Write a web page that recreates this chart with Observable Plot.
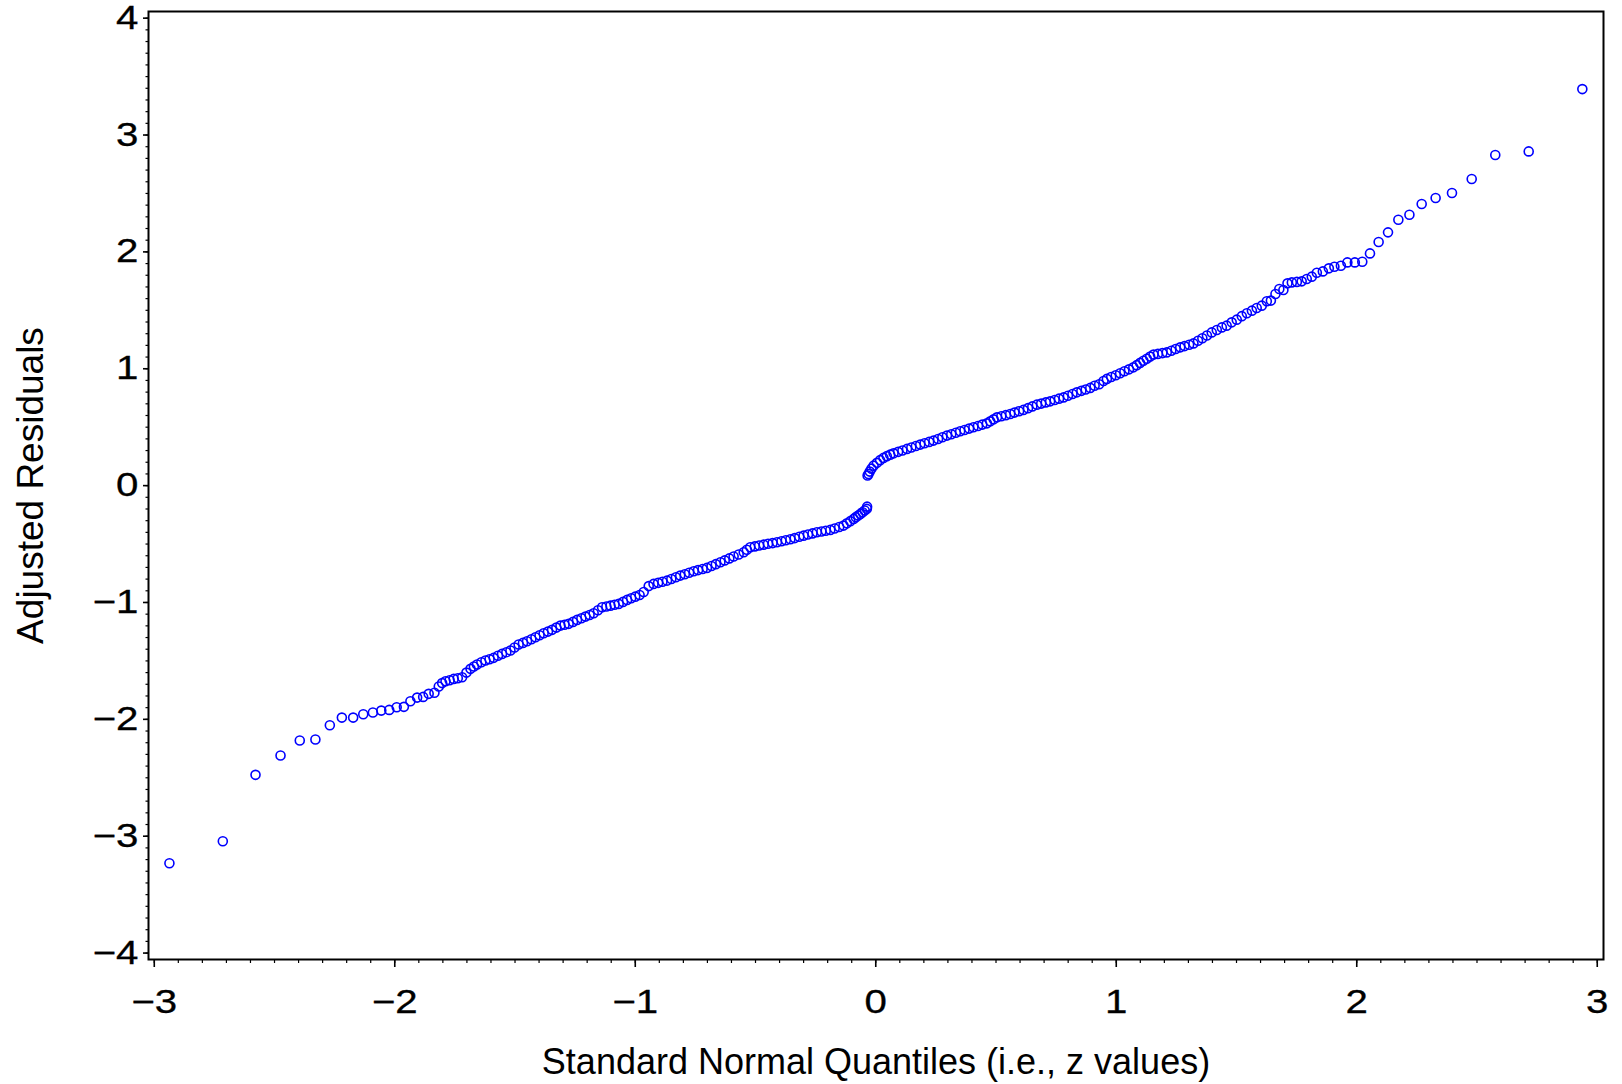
<!DOCTYPE html>
<html><head><meta charset="utf-8">
<script src="https://cdn.jsdelivr.net/npm/d3@7"></script>
<script src="https://cdn.jsdelivr.net/npm/@observablehq/plot@0.6"></script>
<style>html,body{margin:0;padding:0;background:#fff} svg{display:block}</style>
</head><body><div id="chart"></div>
<script>
const xTicks = [-3, -2, -1, 0, 1, 2, 3];
const yTicks = [-4, -3, -2, -1, 0, 1, 2, 3, 4];
const xLabel = "Standard Normal Quantiles (i.e., z values)";
const yLabel = "Adjusted Residuals";

const lowerTailZ = [-2.937,-2.715,-2.579,-2.475,-2.395,-2.330,-2.270,-2.220,-2.173,-2.131,-2.091,-2.056,-2.023,-1.992,-1.962,-1.935,-1.907,-1.882,-1.859,-1.835,-1.817];
const lowerTailR = [-3.231,-3.043,-2.475,-2.310,-2.181,-2.173,-2.050,-1.985,-1.985,-1.956,-1.942,-1.925,-1.919,-1.896,-1.893,-1.845,-1.814,-1.808,-1.782,-1.773,-1.719];

const lowerZ = [-1.803,-1.789,-1.772,-1.755,-1.738,-1.720,-1.702,-1.685,-1.671,-1.658,-1.640,-1.623,-1.606,-1.589,-1.571,-1.554,-1.536,-1.519,-1.502,-1.485,-1.467,-1.450,-1.432,-1.415,-1.398,-1.381,-1.363,-1.346,-1.328,-1.311,-1.294,-1.277,-1.259,-1.242,-1.224,-1.207,-1.190,-1.173,-1.155,-1.138,-1.120,-1.103,-1.086,-1.069,-1.051,-1.034,-1.017,-1.000,-0.982,-0.965,-0.944,-0.924,-0.905,-0.887,-0.868,-0.850,-0.831,-0.813,-0.794,-0.776,-0.757,-0.739,-0.720,-0.702,-0.683,-0.665,-0.646,-0.628,-0.609,-0.591,-0.570,-0.549,-0.536,-0.522,-0.503,-0.485,-0.466,-0.448,-0.429,-0.411,-0.392,-0.374,-0.355,-0.337,-0.318,-0.300,-0.282,-0.263,-0.245,-0.226,-0.208,-0.189,-0.171,-0.152,-0.134,-0.120,-0.106,-0.092,-0.083,-0.073,-0.064,-0.055,-0.046,-0.037,-0.036];
const lowerR = [-1.690,-1.674,-1.665,-1.654,-1.648,-1.640,-1.600,-1.568,-1.548,-1.531,-1.512,-1.497,-1.486,-1.474,-1.456,-1.440,-1.426,-1.411,-1.385,-1.360,-1.346,-1.332,-1.315,-1.298,-1.280,-1.263,-1.249,-1.234,-1.215,-1.198,-1.191,-1.183,-1.166,-1.149,-1.135,-1.121,-1.107,-1.092,-1.066,-1.041,-1.034,-1.027,-1.020,-1.012,-0.995,-0.978,-0.964,-0.950,-0.936,-0.910,-0.860,-0.841,-0.832,-0.823,-0.813,-0.799,-0.784,-0.770,-0.758,-0.745,-0.733,-0.723,-0.714,-0.704,-0.688,-0.672,-0.656,-0.640,-0.623,-0.607,-0.589,-0.570,-0.549,-0.528,-0.520,-0.512,-0.505,-0.498,-0.492,-0.485,-0.476,-0.468,-0.459,-0.449,-0.438,-0.428,-0.418,-0.409,-0.399,-0.392,-0.386,-0.379,-0.367,-0.354,-0.342,-0.323,-0.304,-0.285,-0.270,-0.256,-0.242,-0.228,-0.213,-0.199,-0.180];

const upperZ = [-0.034,-0.030,-0.025,-0.018,-0.009,0.005,0.018,0.032,0.046,0.060,0.074,0.093,0.111,0.130,0.148,0.167,0.185,0.203,0.222,0.240,0.259,0.277,0.296,0.314,0.333,0.351,0.369,0.388,0.406,0.425,0.443,0.462,0.476,0.490,0.504,0.522,0.541,0.559,0.577,0.596,0.614,0.633,0.651,0.670,0.688,0.707,0.725,0.744,0.762,0.781,0.799,0.818,0.836,0.855,0.873,0.892,0.910,0.929,0.947,0.961,0.979,0.998,1.016,1.034,1.053,1.071,1.085,1.099,1.113,1.127,1.141,1.155,1.173,1.192,1.210,1.229,1.247,1.266,1.284,1.303,1.321,1.340,1.358,1.377,1.397,1.418,1.439,1.459,1.480,1.501,1.522,1.543,1.564,1.584,1.605,1.626,1.643,1.662,1.678,1.695,1.712,1.730,1.751,1.771,1.792,1.813];
const upperR = [0.086,0.100,0.120,0.145,0.171,0.195,0.218,0.237,0.252,0.265,0.276,0.289,0.301,0.314,0.326,0.339,0.351,0.362,0.374,0.385,0.399,0.414,0.428,0.440,0.453,0.465,0.476,0.488,0.499,0.510,0.522,0.533,0.550,0.567,0.584,0.594,0.603,0.613,0.625,0.636,0.648,0.663,0.678,0.693,0.702,0.712,0.721,0.732,0.744,0.755,0.769,0.784,0.798,0.811,0.823,0.836,0.855,0.868,0.895,0.913,0.929,0.945,0.961,0.978,0.995,1.012,1.031,1.050,1.069,1.086,1.104,1.121,1.127,1.134,1.140,1.154,1.169,1.183,1.194,1.206,1.217,1.239,1.261,1.285,1.311,1.332,1.354,1.369,1.397,1.420,1.450,1.475,1.497,1.520,1.540,1.577,1.583,1.640,1.683,1.674,1.731,1.739,1.743,1.748,1.768,1.788];

const upperTailZ = [1.834,1.859,1.884,1.907,1.934,1.961,1.992,2.023,2.055,2.091,2.130,2.173,2.219,2.270,2.328,2.396,2.478,2.576,2.715,2.938];
const upperTailR = [1.822,1.833,1.859,1.873,1.882,1.910,1.910,1.916,1.987,2.085,2.167,2.275,2.318,2.410,2.461,2.504,2.624,2.829,2.860,3.393];

const zValues = [...lowerTailZ, ...lowerZ, ...upperZ, ...upperTailZ];
const residuals = [...lowerTailR, ...lowerR, ...upperR, ...upperTailR];
const n = Math.min(zValues.length, residuals.length);
const data = d3.range(n).map(i => ({z: zValues[i], r: residuals[i]}));

const fmt = d => d < 0 ? "\u2212" + Math.abs(d) : String(d);
const minorX = d3.range(-30, 31).map(d => d / 10);
const minorY = d3.range(-40, 41).map(d => d / 10);

const chart = Plot.plot({
  width: 1622, height: 1084,
  marginLeft: 148, marginRight: 19, marginTop: 11, marginBottom: 125,
  style: {fontFamily: "'Liberation Sans', Arial, sans-serif", background: "#fff", color: "#000"},
  x: {domain: [-3.024, 3.026], label: null},
  y: {domain: [-4.055, 4.057], label: null},
  marks: [
    Plot.axisX(minorX, {tickSize: 4, tickFormat: () => "", label: null, strokeWidth: 1.2}),
    Plot.axisX(xTicks, {tickSize: 8, tickPadding: 22, tickFormat: fmt, fontSize: 33, label: null, strokeWidth: 1.6}),
    Plot.axisY(minorY, {tickSize: 2.5, tickFormat: () => "", label: null, strokeWidth: 1.2}),
    Plot.axisY(yTicks, {tickSize: 5, tickPadding: 5, tickFormat: fmt, fontSize: 33, label: null, strokeWidth: 1.6}),
    Plot.frame({stroke: "#000", strokeWidth: 2}),
    Plot.dot(data, {x: "z", y: "r", r: 4.5, stroke: "#0000ff", strokeWidth: 1.6, fill: "none"}),
    Plot.text([xLabel], {text: d => d, frameAnchor: "bottom", dy: 103, fontSize: 36, lineAnchor: "middle", textAnchor: "middle", fill: "#000"}),
    Plot.text([yLabel], {text: d => d, frameAnchor: "left", dx: -117, rotate: -90, fontSize: 37, textAnchor: "middle", lineAnchor: "middle", fill: "#000"})
  ]
});
chart.querySelectorAll('g[aria-label$="tick label"] text').forEach(t => {
  const tr = t.getAttribute("transform");
  if (tr) t.setAttribute("transform", tr + " scale(1.22,1)");
  t.setAttribute("stroke", "#000");
  t.setAttribute("stroke-width", "0.3");
});
document.getElementById("chart").appendChild(chart);
</script>
</body></html>
